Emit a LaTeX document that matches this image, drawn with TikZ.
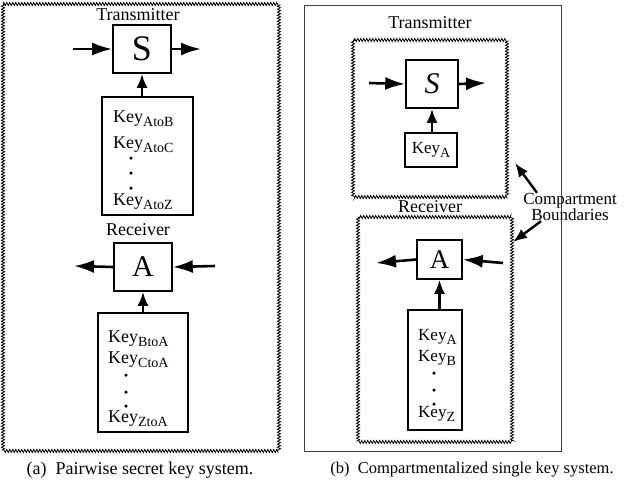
\documentclass[tikz,border=0pt]{standalone}
\usepackage{fontspec}
\setmainfont{Liberation Serif}
\usetikzlibrary{arrows.meta,decorations.pathmorphing,positioning}

\newcommand{\ksub}[1]{\raisebox{-0.6ex}{\fontsize{14}{14}\selectfont #1}}

\tikzset{
  kwall/.style={decorate, decoration={zigzag, segment length=3pt, amplitude=1.6pt}, line width=0.7pt},
  kframe/.style={draw, line width=1pt, black!75},
  kproc/.style={draw, line width=1.6pt, minimum width=58pt, minimum height=48pt, inner sep=0pt, font=\fontsize{30}{30}\selectfont},
  kstore/.style={draw, line width=1.6pt, inner sep=0pt},
  kkey/.style={anchor=base west, font=\fontsize{18}{18}\selectfont, inner sep=0pt},
  kdot/.style={circle, fill, inner sep=0pt, minimum size=3.5pt},
  klab/.style={font=\fontsize{18}{18}\selectfont},
  karr/.style={-{Latex[length=20pt,width=13pt]}, line width=2.6pt},
  kuarr/.style={-{Latex[length=14pt,width=11pt]}, line width=2.4pt}
}

\begin{document}
\begin{tikzpicture}[x=1pt,y=-1pt]
    \useasboundingbox (0,0) rectangle (625,485);

    % (a) pairwise secret keys
    \draw[kwall] (3,4) rectangle (279,451);
    \node[klab] (txL) at (138,15) {Transmitter};
    \node[kproc, font=\fontsize{36}{36}\selectfont] (sL) at (142,49) {S};
    \coordinate (sLin) at (73,49);
    \coordinate (sLout) at (201,49);
    \draw[karr] (sLin) -- (sL.west);
    \draw[karr] (sL.east) -- (sLout);
    \node[kstore, minimum width=91pt, minimum height=118pt] (kL) at (147.5,156) {};
    \draw[kuarr] (kL.north -| sL.south) -- (sL.south);
    \node[kkey] (kAB) at (113,122) {Key\ksub{AtoB}};
    \node[kkey] (kAC) at (113,148) {Key\ksub{AtoC}};
    \foreach \y [count=\i] in {158,173,188}
        \node[kdot] (dL\i) at (131,\y) {};
    \node[kkey] (kAZ) at (113,205) {Key\ksub{AtoZ}};

    \node[klab] (rxL) at (138,230) {Receiver};
    \node[kproc] (aL) at (143,267) {A};
    \coordinate (aLout) at (74,266);
    \coordinate (aLin) at (215,266);
    \draw[karr] (aL.west) -- (aLout);
    \draw[karr] (aLin) -- (aL.east);
    \node[kstore, minimum width=90pt, minimum height=119pt] (kR) at (143,372.5) {};
    \draw[kuarr] (kR.north -| aL.south) -- (aL.south);
    \node[kkey] (kBA) at (108,342) {Key\ksub{BtoA}};
    \node[kkey] (kCA) at (108,363) {Key\ksub{CtoA}};
    \foreach \y [count=\i] in {375,392,406}
        \node[kdot] (dR\i) at (126,\y) {};
    \node[kkey] (kZA) at (108,422) {Key\ksub{ZtoA}};

    \node[font=\fontsize{18}{18}\selectfont] (capA) at (140,470) {(a)\ \ Pairwise secret key system.};

    % (b) compartments, one key
    \draw[kframe] (304,5) rectangle (561,451);
    \node[klab] (txR) at (430,23) {Transmitter};
    \draw[kwall] (353,40) rectangle (507,197);
    \node[kproc, minimum width=52pt] (sR) at (432,84) {\textit{S}};
    \coordinate (sRin) at (369,83);
    \coordinate (sRout) at (486,83);
    \draw[karr] (sRin) -- (sR.west);
    \draw[karr] (sR.east) -- (sRout);
    \node[kstore, minimum width=52pt, minimum height=34pt, font=\fontsize{17}{17}\selectfont] (kA) at (431,150) {Key\ksub{A}};
    \draw[kuarr] (kA.north -| sR.south) -- (sR.south);

    \node[klab] (rxR) at (430,207) {Receiver};
    \draw[kwall] (358,217) rectangle (512,442);
    \node[kproc, minimum width=45pt, minimum height=39pt, font=\fontsize{27}{27}\selectfont] (aR) at (439.5,259.5) {A};
    \coordinate (aRout) at (376,263);
    \coordinate (aRin) at (503,263);
    \draw[karr] (aR.west) -- (aRout);
    \draw[karr] (aRin) -- (aR.east);
    \node[kstore, minimum width=54pt, minimum height=120pt] (kS) at (435,370) {};
    \draw[kuarr] (kS.north -| aR.south) -- (aR.south);
    \node[kkey, font=\fontsize{17}{17}\selectfont] (kSA) at (418,340) {Key\ksub{A}};
    \node[kkey, font=\fontsize{17}{17}\selectfont] (kSB) at (418,361) {Key\ksub{B}};
    \foreach \y [count=\i] in {373,390,404}
        \node[kdot] (dS\i) at (434,\y) {};
    \node[kkey, font=\fontsize{17}{17}\selectfont] (kSZ) at (418,417) {Key\ksub{Z}};

    \node[align=center, font=\fontsize{17}{15}\selectfont, inner sep=0pt] (cb) at (570,207) {Compartment\\Boundaries};
    \coordinate (cbUp) at (515,163);
    \coordinate (cbDn) at (513,242);
    \draw[kuarr] ([xshift=14pt]cb.north west) -- (cbUp);
    \draw[kuarr] ([xshift=18pt]cb.south west) -- (cbDn);

    \node[font=\fontsize{16.5}{16.5}\selectfont] (capB) at (472,470) {(b)\ \ Compartmentalized single key system.};
\end{tikzpicture}
\end{document}
